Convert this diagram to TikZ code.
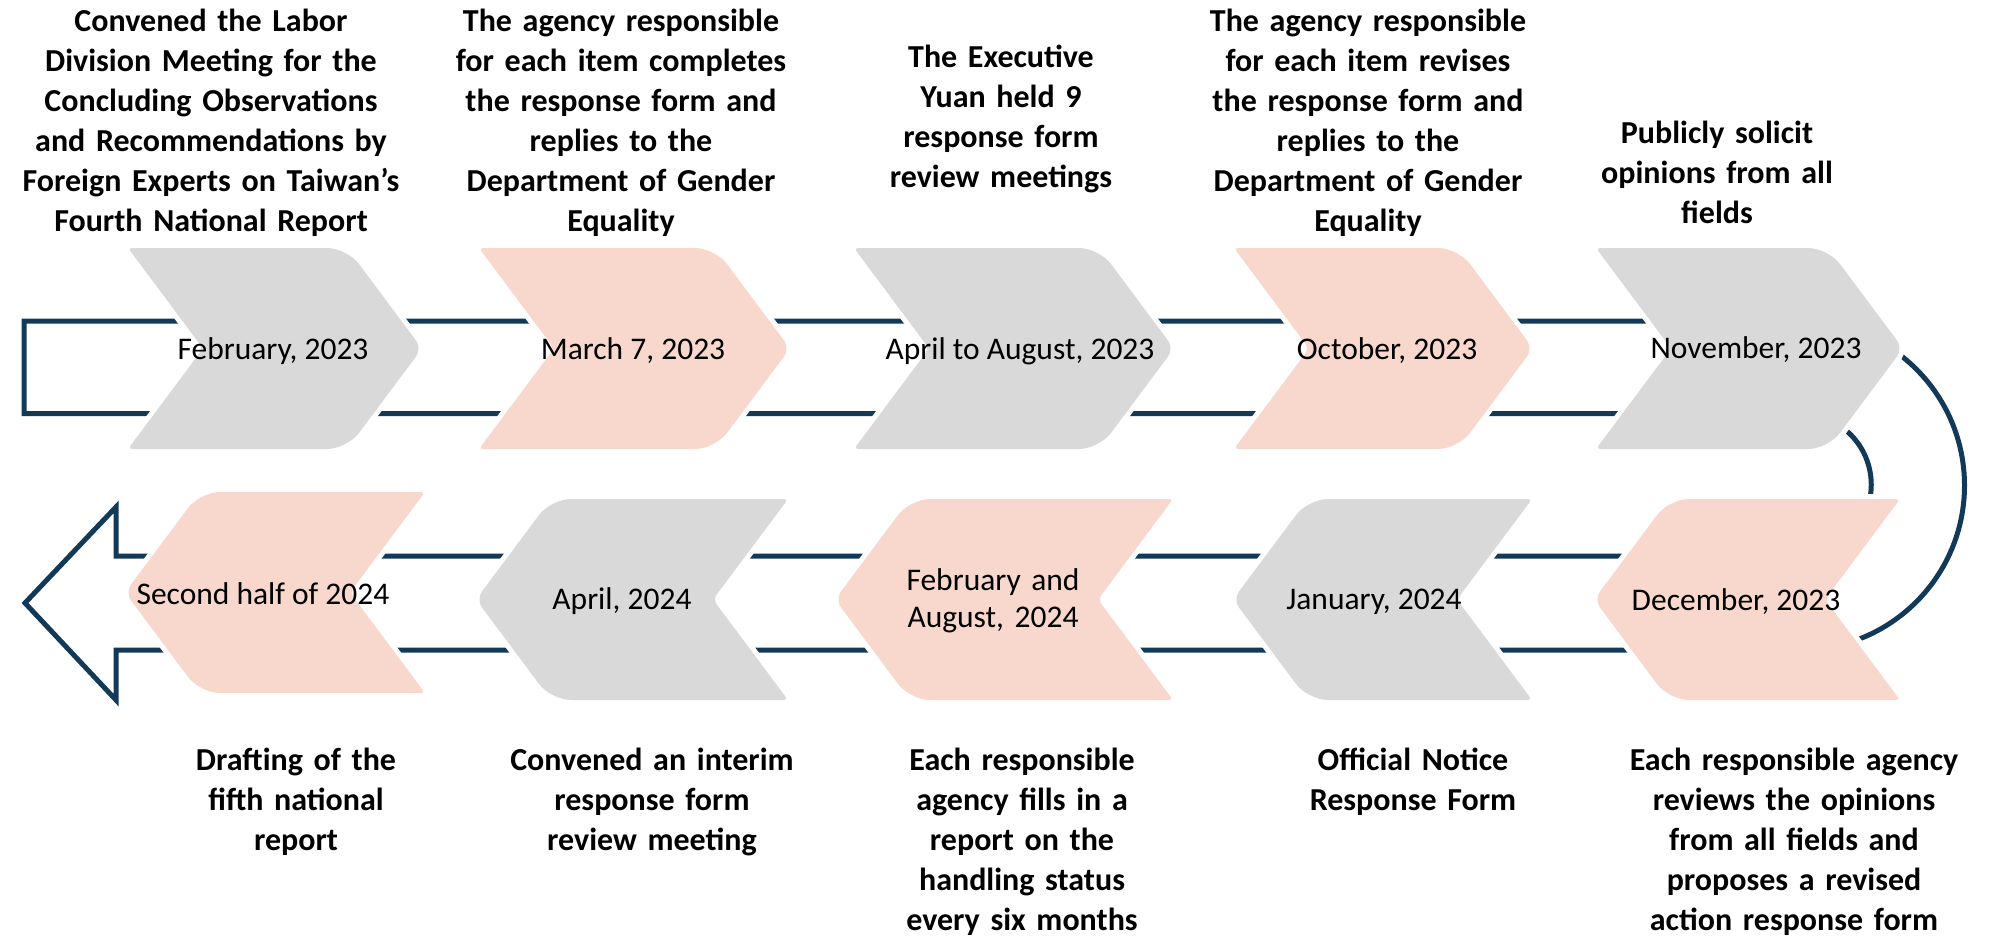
\documentclass[tikz,border=0pt]{standalone}
\usepackage{fontspec}
\setmainfont{Carlito}
\definecolor{navy}{RGB}{19,57,89}
\definecolor{grayc}{RGB}{217,217,217}
\definecolor{peach}{RGB}{248,216,204}
% right-pointing chevron: #1 back x, #2 tip x, #3 centre y, #4 colour
\newcommand{\chevR}[4]{%
  \foreach \st in {{draw=white,line width=10},{fill=#4}}{%
  \path[style/.expanded=\st] ({#1+75},#3) [rounded corners=4] -- (#1,{#3-100.5}) [rounded corners=20] -- ({#2-75},{#3-100.5}) [rounded corners=10] -- (#2,#3) [rounded corners=20] -- ({#2-75},{#3+100.5}) [rounded corners=4] -- (#1,{#3+100.5}) [rounded corners=6] -- cycle;}}
% left-pointing chevron: #1 tip x, #2 back x, #3 centre y, #4 colour
\newcommand{\chevL}[4]{%
  \foreach \st in {{draw=white,line width=10},{fill=#4}}{%
  \path[style/.expanded=\st] ({#2-75},#3) [rounded corners=4] -- (#2,{#3-100.5}) [rounded corners=20] -- ({#1+75},{#3-100.5}) [rounded corners=10] -- (#1,#3) [rounded corners=20] -- ({#1+75},{#3+100.5}) [rounded corners=4] -- (#2,{#3+100.5}) [rounded corners=6] -- cycle;}}
\tikzset{
  title/.style={anchor=base, text width=520, align=center, inner sep=0,
    font=\fontsize{32}{40}\selectfont\bfseries},
  datelbl/.style={anchor=base, inner sep=0, font=\fontsize{31.5}{37}\selectfont},
  band/.style={draw=navy, line width=5, line join=miter}
}
\begin{document}
\begin{tikzpicture}[x=1pt,y=-1pt]
\useasboundingbox (0,0) rectangle (1997,947);
% U-turn band with arrow head
\coordinate (bandstart) at (24,321);
\draw[band] (bandstart) -- (1800,321) arc[start angle=-90, end angle=90, radius=164.5]
  -- (116,650) -- (116,700) -- (25,603) -- (116,507) -- (116,556)
  -- (1800,556) arc[start angle=90, end angle=-90, radius=71.25]
  -- (24,413.5) -- cycle;
% top row chevrons
\chevR{128}{422}{348.5}{grayc}
\chevR{479}{790}{348.5}{peach}
\chevR{854}{1174}{348.5}{grayc}
\chevR{1234}{1533}{348.5}{peach}
\chevR{1596}{1903}{348.5}{grayc}
% bottom row chevrons
\chevL{125}{425}{592.5}{peach}
\chevL{476}{788}{599.5}{grayc}
\chevL{835}{1173}{599.5}{peach}
\chevL{1233}{1532}{599.5}{grayc}
\chevL{1594}{1900}{599.5}{peach}
% date labels
\node[datelbl] (d1) at (273,359) {February, 2023};
\node[datelbl] (d2) at (633,359) {March 7, 2023};
\node[datelbl] (d3) at (1020,359) {April to August, 2023};
\node[datelbl] (d4) at (1387,359) {October, 2023};
\node[datelbl] (d5) at (1756,358) {November, 2023};
\node[datelbl] (e1) at (263,604) {Second half of 2024};
\node[datelbl] (e2) at (622,609) {April, 2024};
\node[datelbl, text width=300, align=center] (e3) at (993,590) {February and\\August, 2024};
\node[datelbl] (e4) at (1374,609) {January, 2024};
\node[datelbl] (e5) at (1736,610) {December, 2023};
% top titles
\node[title] (t1) at (211,32) {Convened the Labor\\Division Meeting for the\\Concluding Observations\\and Recommendations by\\Foreign Experts on Taiwan’s\\Fourth National Report};
\node[title] (t2) at (621,32) {The agency responsible\\for each item completes\\the response form and\\replies to the\\Department of Gender\\Equality};
\node[title] (t3) at (1001,68) {The Executive\\Yuan held 9\\response form\\review meetings};
\node[title] (t4) at (1368,32) {The agency responsible\\for each item revises\\the response form and\\replies to the\\Department of Gender\\Equality};
\node[title] (t5) at (1717,143) {Publicly solicit\\opinions from all\\fields};
% bottom titles
\node[title] (b1) at (296,770) {Drafting of the\\fifth national\\report};
\node[title] (b2) at (652,770) {Convened an interim\\response form\\review meeting};
\node[title] (b3) at (1022,770) {Each responsible\\agency fills in a\\report on the\\handling status\\every six months};
\node[title] (b4) at (1413,770) {Official Notice\\Response Form};
\node[title] (b5) at (1794,770) {Each responsible agency\\reviews the opinions\\from all fields and\\proposes a revised\\action response form};
\end{tikzpicture}
\end{document}
